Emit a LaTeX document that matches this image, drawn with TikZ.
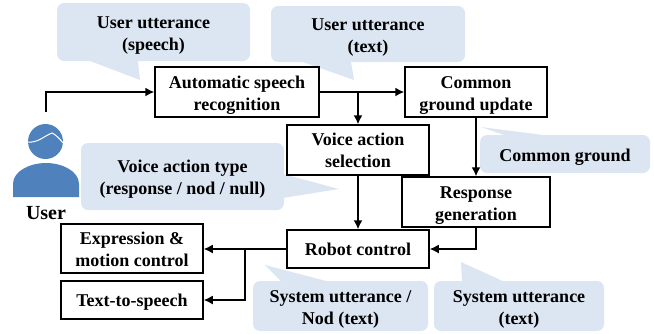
\documentclass[tikz,border=0pt]{standalone}
\usepackage{fontspec}
\setmainfont{Liberation Serif}
\definecolor{notefill}{RGB}{220,230,242}
\definecolor{userblue}{RGB}{79,129,189}
\newcommand{\dn}[1]{\rule{0pt}{#1pt}}
\tikzset{
  blockbox/.style={draw,line width=1.5pt,fill=white,align=center,font=\fontsize{18}{22}\selectfont\bfseries,inner sep=0pt},
  notebox/.style={fill=notefill,rounded corners=7pt,align=center,font=\fontsize{18}{22}\selectfont\bfseries,inner sep=0pt},
  notetail/.style={fill=notefill},
  flow/.style={line width=1.5pt,-{Latex[length=9pt,width=9pt]}}
}
\usetikzlibrary{arrows.meta}
\begin{document}
\begin{tikzpicture}[x=1pt,y=-1pt]
\useasboundingbox (0,0) rectangle (654,333);
% callouts
\node[notebox,minimum width=193pt,minimum height=58pt] (usp) at (153.5,32) {\dn{19}User utterance\\(speech)};
\node[notebox,minimum width=194pt,minimum height=56pt] (utx) at (368,34) {\dn{18}User utterance\\(text)};
\node[notebox,minimum width=170pt,minimum height=38pt] (cg) at (565,154) {\dn{18}Common ground};
\node[notebox,minimum width=203pt,minimum height=67pt] (vat) at (182.5,176.5) {\dn{18}Voice action type\\(response / nod / null)};
\node[notebox,minimum width=175pt,minimum height=50pt] (sun) at (340.5,306) {\dn{18}System utterance /\\Nod (text)};
\node[notebox,minimum width=170pt,minimum height=50pt] (sut) at (519,306) {\dn{18}System utterance\\(text)};
\fill[notetail] (90,61)--(140,80)--(138,61)--cycle;
\fill[notetail] (303,62)--(354,80)--(351,62)--cycle;
\fill[notetail] (481,127)--(507,136)--(551,136)--cycle;
\fill[notetail] (283,198)--(339,189)--(283,174)--cycle;
\fill[notetail] (282,282)--(265,265)--(330,282)--cycle;
\fill[notetail] (461,262)--(462,282)--(505,282)--cycle;
% user
\fill[userblue] (45.5,141.5) circle (17.5);
\draw[white,line width=1pt] (28,142) .. controls (38,143) and (44,136) .. (52,133) .. controls (55,134) and (60,139) .. (63,143);
\fill[userblue] (13,197)--(13,184) .. controls (13,171) and (30,163) .. (46,163) .. controls (62,163) and (79,171) .. (79,184)--(79,197)--cycle;
\node[font=\fontsize{20}{24}\selectfont\bfseries,inner sep=0pt] (user) at (46,213) {User};
\coordinate (userin) at (46,112);
% blocks
\node[blockbox,minimum width=164pt,minimum height=50pt] (asr) at (237,92) {\dn{19}Automatic speech\\recognition};
\node[blockbox,minimum width=142pt,minimum height=50pt] (cgu) at (476,92) {\dn{19}Common\\ground update};
\node[blockbox,minimum width=142pt,minimum height=50pt] (vas) at (358,150) {Voice action\\selection};
\node[blockbox,minimum width=148pt,minimum height=50pt] (rg) at (476,202) {\dn{19}Response\\generation};
\node[blockbox,minimum width=142pt,minimum height=38pt] (rc) at (358,249) {Robot control};
\node[blockbox,minimum width=142pt,minimum height=49pt] (emc) at (132,248.5) {\dn{14}Expression \&\\motion control};
\node[blockbox,minimum width=142pt,minimum height=38pt] (tts) at (132,300) {\dn{16}Text-to-speech};
% arrows
\draw[flow] (userin)--(userin|-asr)--(asr);
\draw[flow] (asr)--(cgu);
\coordinate (branch) at (asr-|vas);
\draw[flow] (branch)--(vas);
\draw[flow] (vas)--(rc);
\draw[flow] (cgu)--(rg);
\draw[flow] (rg.south)|-(rc.east);
\draw[flow] (rc.west)--(emc.east|-rc);
\coordinate (split) at (245,249);
\draw[flow] (split)|-(tts);
\end{tikzpicture}
\end{document}
